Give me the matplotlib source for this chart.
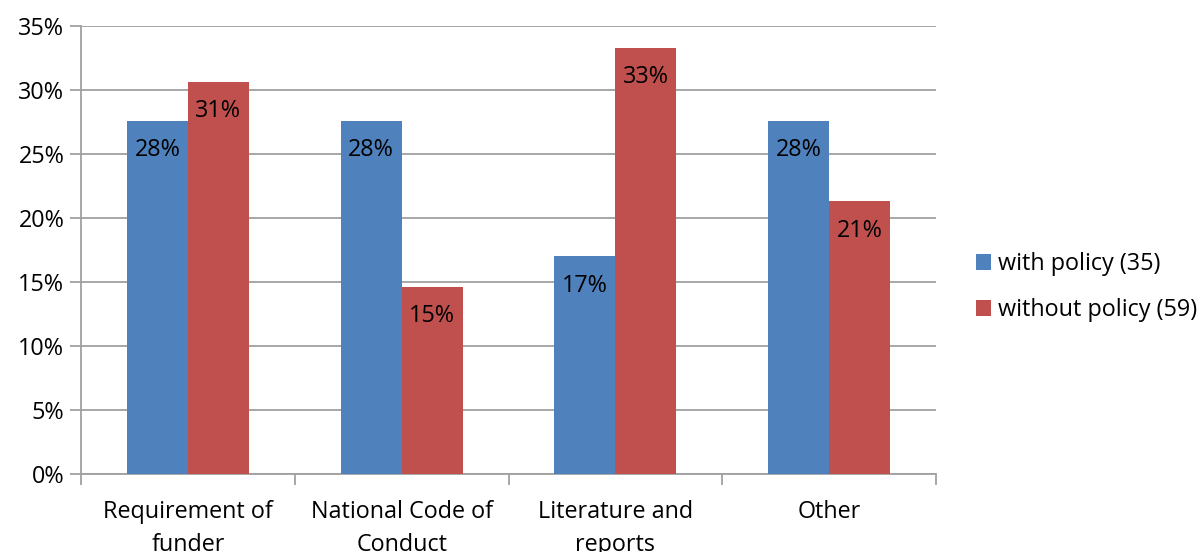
import matplotlib.pyplot as plt
import numpy as np

categories = ['Requirement of\nfunder', 'National Code of\nConduct', 'Literature and\nreports', 'Other']
with_policy = [27.6, 27.6, 17.0, 27.6]
without_policy = [30.6, 14.6, 33.3, 21.3]
series_names = ['with policy (35)', 'without policy (59)']
yticks = [0, 5, 10, 15, 20, 25, 30, 35]

plt.rcParams['font.family'] = ['Open Sans', 'DejaVu Sans']
fs = 16.8

fig = plt.figure(figsize=(12.04, 5.52), dpi=100)
ax = fig.add_axes([0.0673, 0.1413, 0.7101, 0.8116])

x = np.arange(len(categories))
w = 0.285
b1 = ax.bar(x - w / 2, with_policy, w, color='#4F81BD', label=series_names[0], zorder=3)
b2 = ax.bar(x + w / 2, without_policy, w, color='#C0504D', label=series_names[1], zorder=3)

for bars, vals in ((b1, with_policy), (b2, without_policy)):
    for r, v in zip(bars, vals):
        ax.annotate('%d%%' % round(v), (r.get_x() + r.get_width() / 2, v),
                    xytext=(0, -21), textcoords='offset points',
                    ha='center', va='center', fontsize=fs, color='black', zorder=4)

ax.set_xlim(-0.5, len(categories) - 0.5)
ax.set_ylim(0, 35)
ax.set_yticks(yticks)
ax.set_yticklabels(['%d%%' % t for t in yticks])
ax.yaxis.grid(True, color='#A0A0A0', linewidth=1.3, zorder=0)
ax.tick_params(axis='y', length=8, width=1.3, color='#A0A0A0', labelsize=fs, pad=4)

ax.set_xticks(x)
ax.set_xticklabels(categories, fontsize=fs, linespacing=1.5)
ax.set_xticks(np.arange(len(categories) + 1) - 0.5, minor=True)
ax.tick_params(axis='x', which='major', length=0, pad=19)
ax.tick_params(axis='x', which='minor', length=8, width=1.3, color='#A0A0A0')

for s in ['top', 'right']:
    ax.spines[s].set_visible(False)
for s in ['left', 'bottom']:
    ax.spines[s].set_color('#A0A0A0')
    ax.spines[s].set_linewidth(1.3)

fig.legend(handles=[b1, b2], loc='center left', bbox_to_anchor=(0.793, 0.48),
           frameon=False, fontsize=fs, handlelength=0.65, handleheight=0.65,
           handletextpad=0.3, labelspacing=0.95)

fig.savefig('out.png', dpi=100)
